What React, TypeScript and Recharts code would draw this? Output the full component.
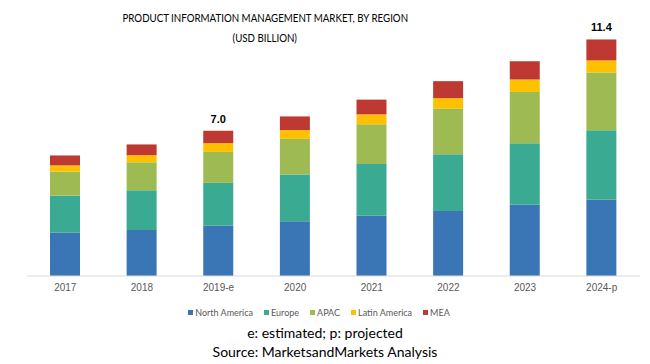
import { Bar, BarChart, LabelList, XAxis, YAxis } from 'recharts';

const years = ['2017', '2018', '2019-e', '2020', '2021', '2022', '2023', '2024-p'];
const northAmerica = [2.09, 2.22, 2.42, 2.64, 2.9, 3.13, 3.43, 3.69];
const europe = [1.78, 1.91, 2.07, 2.25, 2.5, 2.74, 2.97, 3.34];
const apac = [1.16, 1.35, 1.49, 1.72, 1.91, 2.2, 2.47, 2.78];
const latinAmerica = [0.3, 0.34, 0.42, 0.42, 0.48, 0.5, 0.6, 0.58];
const mea = [0.48, 0.52, 0.6, 0.66, 0.71, 0.82, 0.88, 1.01];
const totalLabels = ['', '', '7.0', '', '', '', '', '11.4'];

const series = [
  { key: 'na', name: 'North America', color: '#3A75B6' },
  { key: 'eu', name: 'Europe', color: '#3AAA92' },
  { key: 'apac', name: 'APAC', color: '#9EBA53' },
  { key: 'latam', name: 'Latin America', color: '#FFC000' },
  { key: 'mea', name: 'MEA', color: '#BD3931' },
];

const chartData = years.map((year, i) => ({
  year,
  na: northAmerica[i],
  eu: europe[i],
  apac: apac[i],
  latam: latinAmerica[i],
  mea: mea[i],
  total: totalLabels[i],
}));

// 合計ラベル（2019-e と 2024-p のみ）
const TotalLabel = (props: any) => {
  const { x, y, width, value } = props;
  if (!value) return null;
  return (
    <text
      x={x + width / 2}
      y={y - 8}
      textAnchor="middle"
      fontSize={11}
      fontWeight="bold"
      fontFamily="Liberation Sans, Arial, sans-serif"
      fill="#000"
    >
      {value}
    </text>
  );
};

const titleLine = { display: 'inline-block', transform: 'scaleX(0.81)', transformOrigin: 'center' } as const;

export default function App() {
  return (
    <div style={{ position: 'absolute', left: 0, top: 0, width: 650, height: 364, background: '#fff', fontFamily: 'Lato, sans-serif' }}>
      <div
        style={{
          position: 'absolute',
          top: 8,
          left: 0,
          width: 530,
          textAlign: 'center',
          fontSize: 12,
          lineHeight: '20px',
          color: '#000',
        }}
      >
        <span style={titleLine}>PRODUCT INFORMATION MANAGEMENT MARKET, BY REGION</span>
        <br />
        <span style={titleLine}>(USD BILLION)</span>
      </div>
      <BarChart width={650} height={364} data={chartData} margin={{ top: 27, right: 10, left: 27, bottom: 58 }}>
        <XAxis
          dataKey="year"
          tickLine={false}
          axisLine={{ stroke: '#D9D9D9' }}
          tick={{ fontSize: 10, fill: '#595959', fontFamily: 'Liberation Sans, Arial, sans-serif' }}
          height={30}
        />
        <YAxis hide domain={[0, 12]} />
        {series.map((s) => (
          <Bar key={s.key} dataKey={s.key} name={s.name} stackId="a" fill={s.color} barSize={30} isAnimationActive={false}>
            {s.key === 'mea' && <LabelList dataKey="total" content={TotalLabel} />}
          </Bar>
        ))}
      </BarChart>
      {/* 凡例 */}
      <div
        style={{
          position: 'absolute',
          top: 307,
          left: 0,
          width: 638,
          display: 'flex',
          justifyContent: 'center',
          gap: 11,
          fontSize: 9,
          color: '#595959',
        }}
      >
        {series.map((s) => (
          <span key={s.key} style={{ display: 'flex', alignItems: 'center', gap: 2 }}>
            <span style={{ width: 5, height: 5, background: s.color, display: 'inline-block' }} />
            {s.name}
          </span>
        ))}
      </div>
      <div style={{ position: 'absolute', top: 323, left: 0, width: 650, textAlign: 'center', fontSize: 14, lineHeight: '19px', color: '#000' }}>
        e: estimated; p: projected
        <br />
        Source: MarketsandMarkets Analysis
      </div>
    </div>
  );
}
